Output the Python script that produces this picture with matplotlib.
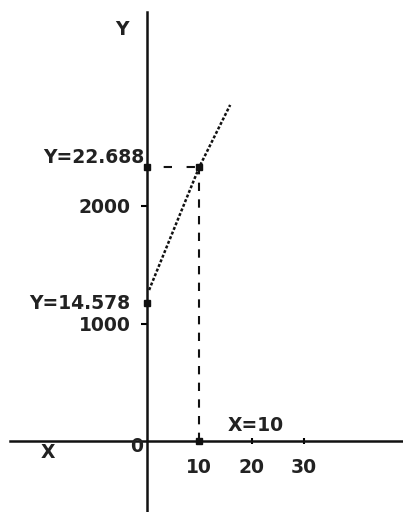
import matplotlib
matplotlib.use('Agg')
import matplotlib.pyplot as plt

# values
curve_x = [0.4, 10.0, 15.9]
curve_y = [1285, 2332, 2860]
y_start = 1174          # Y=14.578 point on the y axis
x_cross, y_cross = 10.0, 2332
x_ticks = [10, 20, 30]
y_ticks = [1000, 2000]
y_start_label = 'Y=14.578'
y_cross_label = 'Y=22.688'
x_cross_label = 'X=10'

fnt = dict(family='DejaVu Sans', fontweight='bold', fontsize=13.5, color='#222222')

fig = plt.figure(figsize=(4.03, 5.12), dpi=100)
ax = fig.add_axes([0, 0, 1, 1])
# pixel mapping: px = 147 + 5.23*x ; py = 441 - 0.1175*y
ax.set_xlim(-147 / 5.23, (403 - 147) / 5.23)
ax.set_ylim((441 - 512) / 0.1175, 441 / 0.1175)

for s in ['top', 'right']:
    ax.spines[s].set_visible(False)
ax.spines['left'].set_position(('data', 0))
ax.spines['bottom'].set_position(('data', 0))
ax.spines['left'].set_bounds((441 - 512) / 0.1175, (441 - 12) / 0.1175)
ax.spines['bottom'].set_bounds((10 - 147) / 5.23, (403 - 147) / 5.23)
for s in ['left', 'bottom']:
    ax.spines[s].set_linewidth(1.8)
    ax.spines[s].set_color('#111111')

ax.set_xticks(x_ticks)
ax.set_xticklabels([str(v) for v in x_ticks], **fnt)
ax.set_yticks(y_ticks)
ax.set_yticklabels([str(v) for v in y_ticks], **fnt)
ax.tick_params(axis='x', direction='inout', length=4, width=1.5, pad=10)
ax.tick_params(axis='y', direction='out', length=4, width=1.5, pad=8)

# main curve
ax.plot(curve_x, curve_y, color='#111111', lw=1.8, ls=(0, (1.2, 0.8)))
# guide lines to the crossing point
ax.plot([0, x_cross], [y_cross, y_cross], color='#111111', lw=1.5, ls=(3, (4, 7)))
ax.plot([x_cross, x_cross], [0, y_cross], color='#111111', lw=1.5, ls=(0, (4, 4)))
ax.plot([0, 0, x_cross, x_cross], [y_start, y_cross, y_cross, 0], 's',
        color='#111111', ms=4.5)

ax.text(-0.4, y_cross + 80, y_cross_label, ha='right', va='center', **fnt)
ax.text(-3.2, y_start, y_start_label, ha='right', va='center', **fnt)
ax.text(15.5, 130, x_cross_label, ha='left', va='center', **fnt)
ax.text(-4.7, 3500, 'Y', ha='center', va='center', **fnt)
ax.text(-19, -95, 'X', ha='center', va='center', **fnt)
ax.text(-2.0, -50, '0', ha='center', va='center', **fnt)

fig.savefig('out.png', dpi=100)
